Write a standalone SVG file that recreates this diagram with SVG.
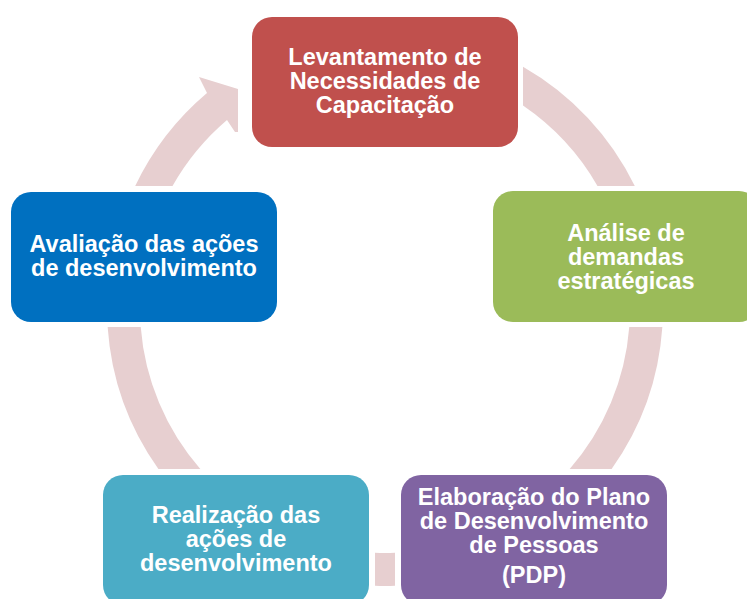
<svg xmlns="http://www.w3.org/2000/svg" width="747" height="599" viewBox="0 0 747 599">
<style>
.band{fill:#E7CFD0}
.box{stroke:none}
.t{font-family:"Liberation Sans",Arial,sans-serif;font-weight:bold;font-size:23.5px;fill:#fff;text-anchor:middle}
</style>
<rect width="747" height="599" fill="#fff"/>
<g id="connectors">
<path class="band" d="M523,66.7 A278 278 0 0 1 634.8,186 L597.5,186 A245 245 0 0 0 523,105.6 Z"/>
<path class="band" d="M662.35,327 A278 278 0 0 1 611.6,469 L569.7,469 A245 245 0 0 0 629.26,327 Z"/>
<path class="band" d="M395,585.8 A278 278 0 0 1 375,585.8 L375,552.8 A245 245 0 0 0 395,552.8 Z"/>
<path class="band" d="M158.4,469 A278 278 0 0 1 107.65,327 L140.74,327 A245 245 0 0 0 200.3,469 Z"/>
<path class="band" d="M135.2,186 A278 278 0 0 1 207,93 L199,77 L238,89 L238,132 L235,132 L227,120 A245 245 0 0 0 172.5,186 Z"/>
</g>
<g id="n1">
<rect class="box" x="252" y="17" width="266" height="130" rx="20" fill="#C0504D"/>
<text class="t" x="385" y="65">Levantamento de</text>
<text class="t" x="385" y="89">Necessidades de</text>
<text class="t" x="385" y="113">Capacitação</text>
</g>
<g id="n2">
<rect class="box" x="493" y="191" width="266" height="131" rx="20" fill="#9BBB59"/>
<text class="t" x="626" y="241">Análise de</text>
<text class="t" x="626" y="265">demandas</text>
<text class="t" x="626" y="289">estratégicas</text>
</g>
<g id="n3">
<rect class="box" x="401" y="475" width="266" height="130" rx="20" fill="#8064A2"/>
<text class="t" x="534" y="505">Elaboração do Plano</text>
<text class="t" x="534" y="529">de Desenvolvimento</text>
<text class="t" x="534" y="553">de Pessoas</text>
<text class="t" x="534" y="583">(PDP)</text>
</g>
<g id="n4">
<rect class="box" x="103" y="475" width="266" height="130" rx="20" fill="#4BACC6"/>
<text class="t" x="236" y="523">Realização das</text>
<text class="t" x="236" y="547">ações de</text>
<text class="t" x="236" y="571">desenvolvimento</text>
</g>
<g id="n5">
<rect class="box" x="11" y="192" width="266" height="130" rx="20" fill="#0070C0"/>
<text class="t" x="144" y="252">Avaliação das ações</text>
<text class="t" x="144" y="276">de desenvolvimento</text>
</g>
</svg>
